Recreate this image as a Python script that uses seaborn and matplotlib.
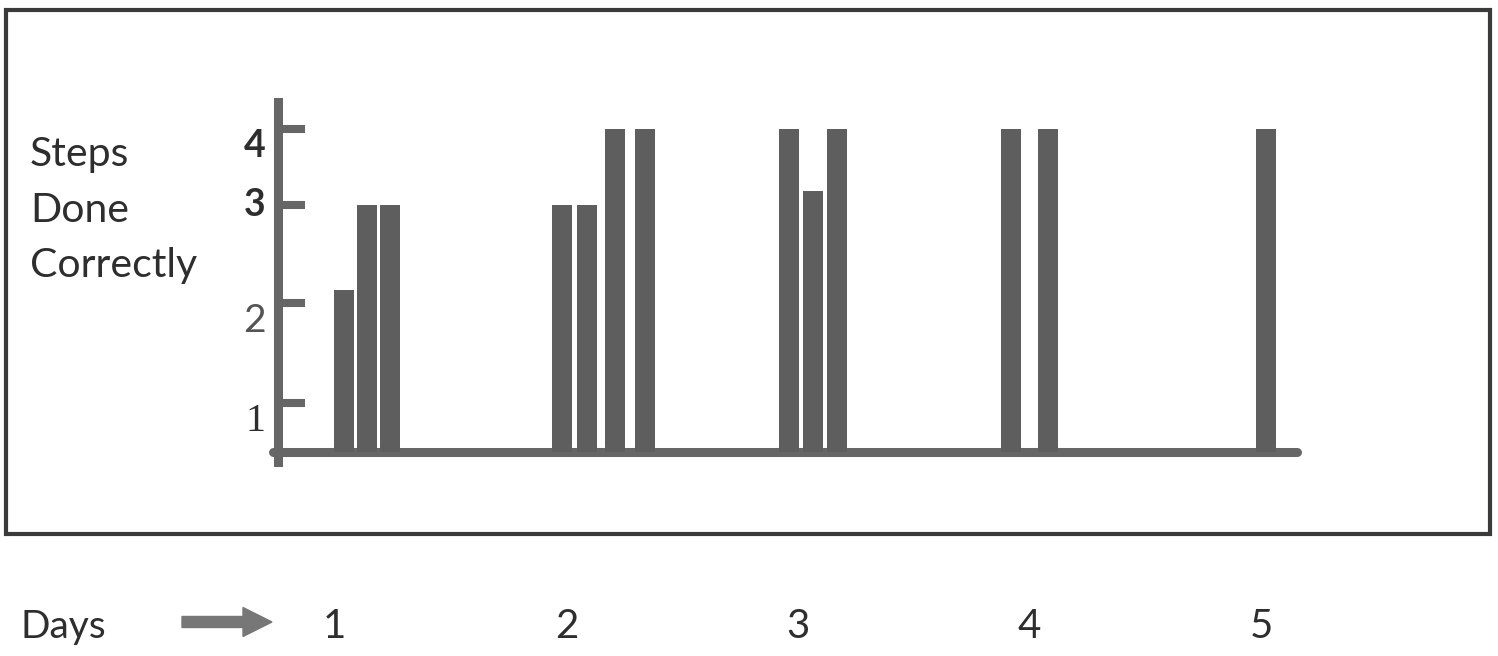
import numpy as np
import matplotlib
matplotlib.use("Agg")
import matplotlib.pyplot as plt
import seaborn as sns
from matplotlib.patches import Rectangle, FancyArrow

# ── Data ──────────────────────────────────────────────────────────────────────
# each bar = one session; x is when it happened (in days), y = steps done correctly
session_day = [1.04, 1.14, 1.24,
               1.98, 2.09, 2.21, 2.34,
               2.96, 3.065, 3.17,
               3.92, 4.08,
               5.02]
steps_correct = [2.13, 3, 3,
                 3, 3, 4, 4,
                 4, 3.18, 4,
                 4, 4,
                 4]
day_ticks = [1, 2, 3, 4, 5]
day_labels = ["1", "2", "3", "4", "5"]
step_ticks = [1, 2, 3, 4]
step_labels = ["1", "2", "3", "4"]

# the hand-drawn y axis is not evenly spaced: steps -> drawn height
STEP_KNOTS = np.array([-10, 0, 1, 2, 3, 4, 10], dtype=float)
DRAWN_KNOTS = np.array([-490, 0, 49, 149, 247, 323, 779], dtype=float)

def fwd(v):
    return np.interp(v, STEP_KNOTS, DRAWN_KNOTS)

def inv(v):
    return np.interp(v, DRAWN_KNOTS, STEP_KNOTS)

# ── Style ─────────────────────────────────────────────────────────────────────
sns.set_theme(style="white")
plt.rcParams['font.family'] = ['Lato', 'DejaVu Sans']
BAR = '#5e5e5e'
AXC = '#666666'
TXT = '#2e2e2e'

fig = plt.figure(figsize=(14.98, 6.56), dpi=100)
W, H = 1498, 656
ax = fig.add_axes([278 / W, (H - 462) / H, (1297 - 278) / W, (462 - 102) / H])

min_gap = np.diff(np.unique(session_day)).min()
sns.barplot(x=session_day, y=steps_correct, native_scale=True, orient='x',
            width=0.087 / min_gap, color=BAR, saturation=1, errorbar=None,
            linewidth=0, ax=ax)

ax.set_yscale('function', functions=(fwd, inv))
ax.set_ylim(inv(-10), inv(350))
ax.set_xlim((278 - 103.2) / 231.6, (1297 - 103.2) / 231.6)

# axes look
for s in ['top', 'right', 'bottom']:
    ax.spines[s].set_visible(False)
ax.spines['left'].set_color(AXC)
ax.spines['left'].set_linewidth(6.5)
ax.axhline(0, xmin=-0.005, xmax=1, color=AXC, lw=6.5, clip_on=False, zorder=0)

ax.set_yticks(step_ticks, step_labels)
ax.tick_params(axis='y', direction='in', length=19.5, width=5.8, color=AXC,
               pad=9, left=True)
# the tick numbers were typed in by hand, each a bit different
label_style = {
    "4": dict(family='Lato', weight='bold', va='top', color=TXT, size=27),
    "3": dict(family='Lato', weight='bold', va='center', color=TXT, size=27),
    "2": dict(family='Lato', weight='normal', va='top', color='#555555', size=28),
    "1": dict(family='Liberation Serif', weight='normal', va='top', color=TXT, size=29),
}
for t in ax.get_yticklabels():
    st = label_style[t.get_text()]
    t.set_fontfamily(st['family'])
    t.set_fontweight(st['weight'])
    t.set_va(st['va'])
    t.set_fontsize(st['size'])
    t.set_color(st['color'])

ax.set_xticks(day_ticks, day_labels)
ax.tick_params(axis='x', length=0, pad=105, labelsize=29, labelcolor=TXT)
ax.set_xlabel('')
ax.set_ylabel('')

# y title, top-left
fig.text(30 / W, (H - 136) / H, "Steps\nDone\nCorrectly", ha='left', va='top',
         fontsize=29.5, color=TXT, linespacing=1.62)

# "Days ->" under the box
fig.text(21 / W, (H - 627) / H, "Days", ha='left', va='center',
         fontsize=28, color=TXT)
fig.patches.append(FancyArrow(1.82, (H - 622) / 100, 0.90, 0, width=0.11,
                              head_width=0.29, head_length=0.29,
                              length_includes_head=True, color='#777777',
                              transform=fig.dpi_scale_trans))

# outer frame
fig.patches.append(Rectangle((0.06, (H - 534) / 100), 14.84, 5.24, fill=False,
                             edgecolor='#3a3a3a', lw=3,
                             transform=fig.dpi_scale_trans))

plt.savefig('out.png', dpi=100)
plt.close()
